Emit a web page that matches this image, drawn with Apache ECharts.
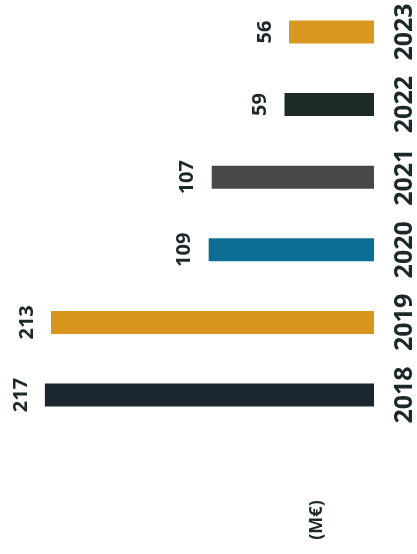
<!DOCTYPE html>
<html>
<head>
<meta charset="utf-8">
<script src="https://cdn.jsdelivr.net/npm/echarts@6/dist/echarts.min.js"></script>
<style>
  html, body { margin: 0; padding: 0; background: #ffffff; }
  #chart { width: 417px; height: 554px; }
</style>
</head>
<body>
<div id="chart"></div>
<script>
// Annual amounts in millions of euros, one bar per year
const years = ['2018', '2019', '2020', '2021', '2022', '2023'];
const amounts = [217, 213, 109, 107, 59, 56];
const barColors = ['#1b2630', '#d8961f', '#0d6d94', '#464849', '#1e2a26', '#d9981f'];
const unitLabel = '(M€)';

const textColor = '#1c2829';
const fontFamily = '"Noto Sans", "Open Sans", sans-serif';

const chart = echarts.init(document.getElementById('chart'), null, { renderer: 'canvas' });

chart.setOption({
  backgroundColor: '#ffffff',
  animation: false,
  // category ticks sit on the grid edges, so the first and last bars are centred on top/bottom
  grid: { left: 10, right: 40, top: 32, bottom: 159, containLabel: false },
  xAxis: {
    type: 'value',
    inverse: true,
    min: 0,
    max: 240,
    show: false
  },
  yAxis: {
    type: 'category',
    position: 'right',
    boundaryGap: false,
    data: years,
    axisLine: { show: false },
    axisTick: { show: false },
    axisLabel: {
      interval: 0,
      hideOverlap: false,
      rotate: 90,
      margin: 18,
      align: 'center',
      verticalAlign: 'top',
      color: textColor,
      fontFamily: fontFamily,
      fontWeight: 'bold',
      fontSize: 25
    }
  },
  series: [{
    type: 'bar',
    barWidth: 23,
    data: amounts.map((v, i) => ({ value: v, itemStyle: { color: barColors[i] } })),
    label: {
      show: true,
      position: 'left',
      distance: 14,
      rotate: 90,
      align: 'center',
      verticalAlign: 'bottom',
      color: textColor,
      fontFamily: fontFamily,
      fontWeight: 'bold',
      fontSize: 20
    }
  }],
  graphic: [{
    type: 'text',
    x: 317,
    y: 520,
    rotation: Math.PI / 2,
    style: {
      text: unitLabel,
      fill: textColor,
      fontFamily: fontFamily,
      fontWeight: 'bold',
      fontSize: 18,
      align: 'center',
      verticalAlign: 'middle'
    }
  }]
});
</script>
</body>
</html>
